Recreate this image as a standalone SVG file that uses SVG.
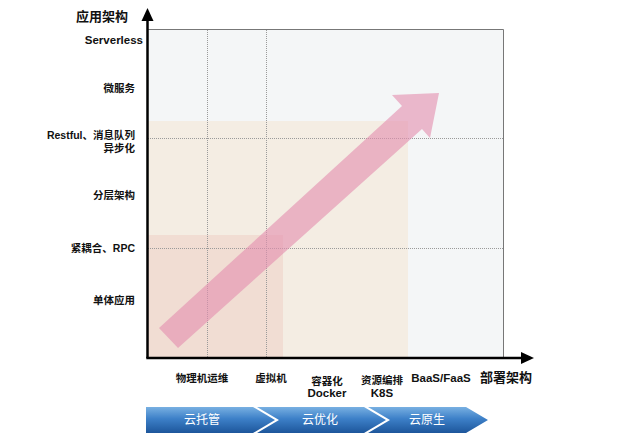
<svg xmlns="http://www.w3.org/2000/svg" width="640" height="441" viewBox="0 0 640 441">
<defs>
<linearGradient id="blue" x1="0" y1="0" x2="0" y2="1">
<stop offset="0" stop-color="#78b0e2"/>
<stop offset="0.45" stop-color="#3d80c8"/>
<stop offset="1" stop-color="#1d569b"/>
</linearGradient>
<style>
.lbl{font-family:"Liberation Sans","Noto Sans CJK SC",sans-serif;font-weight:bold;fill:#111;}
.ylbl{font-size:10.5px;text-anchor:end;}
.xlbl{font-size:10.5px;text-anchor:middle;}
.lat{font-size:11.5px;}
.title{font-size:13px;}
.band{font-family:"Liberation Sans","Noto Sans CJK SC",sans-serif;font-size:12px;fill:#fff;text-anchor:middle;}
.grid{stroke:#9a9a9a;stroke-width:1;stroke-dasharray:1 1;fill:none;}
.axis{stroke:#000;stroke-width:2.5;fill:none;}
</style>
</defs>
<rect width="640" height="441" fill="#fff"/>
<g id="plot-background">
<rect x="147" y="29" width="356.5" height="329" fill="#f4f6f7"/>
<rect x="147" y="121" width="261" height="237" fill="#f4ede3"/>
<rect x="147" y="235" width="136" height="123" fill="#f1ddd3"/>
<path d="M147,29.5 H503.5 V358" stroke="#777" stroke-width="1" fill="none"/>
</g>
<g id="grid">
<line class="grid" x1="207.5" y1="30" x2="207.5" y2="357"/>
<line class="grid" x1="266.5" y1="30" x2="266.5" y2="357"/>
<line class="grid" x1="148" y1="138.5" x2="503" y2="138.5"/>
<line class="grid" x1="148" y1="248.5" x2="503" y2="248.5"/>
</g>
<g id="trend-arrow">
<polygon points="159,328 402,106 392,95 439,93 430,138 422,129 178,348" fill="#e38fb0" fill-opacity="0.62"/>
</g>
<g id="axes">
<path class="axis" d="M147.5,358 V18"/>
<polygon points="147.5,8 141.5,21 153.5,21" fill="#000"/>
<path class="axis" d="M146.3,358 H524"/>
<polygon points="534,358 521,352 521,364" fill="#000"/>
</g>
<g id="y-labels">
<text class="lbl title" x="128" y="21" text-anchor="end">应用架构</text>
<text class="lbl lat" x="143" y="44" text-anchor="end">Serverless</text>
<text class="lbl ylbl" x="135" y="92">微服务</text>
<text class="lbl ylbl" x="135" y="139">Restful、消息队列</text>
<text class="lbl ylbl" x="135" y="151.5">异步化</text>
<text class="lbl ylbl" x="135" y="199">分层架构</text>
<text class="lbl ylbl" x="135" y="252">紧耦合、RPC</text>
<text class="lbl ylbl" x="135" y="304">单体应用</text>
</g>
<g id="x-labels">
<text class="lbl xlbl" x="202" y="382">物理机运维</text>
<text class="lbl xlbl" x="271" y="382">虚拟机</text>
<text class="lbl xlbl" x="327" y="385">容器化</text>
<text class="lbl xlbl lat" x="327" y="397">Docker</text>
<text class="lbl xlbl" x="382" y="384">资源编排</text>
<text class="lbl xlbl lat" x="382" y="397">K8S</text>
<text class="lbl xlbl lat" x="441" y="382">BaaS/FaaS</text>
<text class="lbl title" x="480" y="382">部署架构</text>
</g>
<g id="stage-cloud-hosting">
<path d="M146,407 H253 L275,420 L253,433 H146 Z" fill="url(#blue)"/>
<text class="band" x="202" y="424">云托管</text>
</g>
<g id="stage-cloud-optimize">
<path d="M257,407 H364 L386,420 L364,433 H257 L279,420 Z" fill="url(#blue)"/>
<text class="band" x="320" y="424">云优化</text>
</g>
<g id="stage-cloud-native">
<path d="M368,407 H466 L488,420 L466,433 H368 L390,420 Z" fill="url(#blue)"/>
<text class="band" x="427" y="424">云原生</text>
</g>
</svg>
